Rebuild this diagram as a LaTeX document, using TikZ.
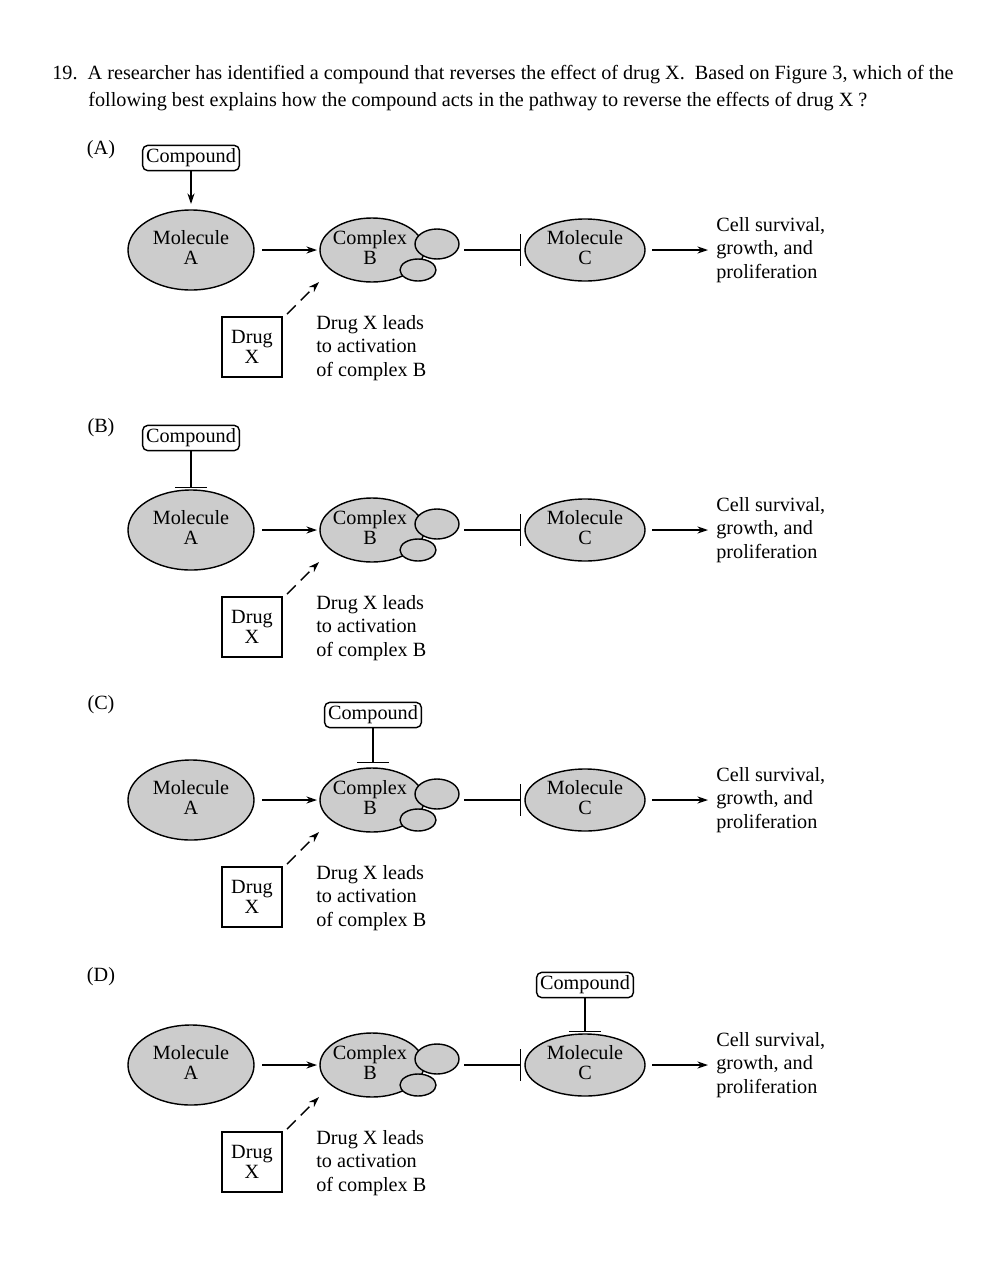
\documentclass[tikz,border=0pt]{standalone}
\usepackage{fontspec}
\setmainfont{Liberation Serif}
\usetikzlibrary{arrows.meta}
\begin{document}
\begin{tikzpicture}[x=0.02cm,y=-0.02cm,font=\fontsize{11.5}{13.5}\selectfont,
 mol/.style={draw,thick,fill=gray!40},
 arr/.style={thick,-{Stealth[length=6pt,width=4pt]}},
 inh/.style={thick,-{Bar[width=18pt]}},
 cmp/.style={draw,thick,rounded corners=3pt,inner sep=2pt,fill=white},
 lbl/.style={align=left,anchor=west,inner sep=0}]
\useasboundingbox (0,0) rectangle (993,1285);
\node[anchor=west,inner sep=0] (q1) at (52,75) {19.\ \ A researcher has identified a compound that reverses the effect of drug X.\ \ Based on Figure 3, which of the};
\node[anchor=west,inner sep=0] (q2) at (88,102) {following best explains how the compound acts in the pathway to reverse the effects of drug X ?};
\foreach \Y/\n in {250/1,530/2,800/3,1065/4}{
 \begin{scope}[yshift=-\Y*0.02cm+250*0.02cm]
 \draw[mol] (191,250) ellipse[x radius=63,y radius=40];
 \node (ma\n) at (191,250) {\begin{tabular}{c}Molecule\\[-2pt]A\end{tabular}};
 \draw[mol] (372,250) ellipse[x radius=52,y radius=32];
 \draw[mol] (437,244) ellipse[x radius=22,y radius=15];
 \draw[mol] (418,270) ellipse[x radius=18,y radius=11];
 \node (cb\n) at (370,250) {\begin{tabular}{c}Complex\\[-2pt]B\end{tabular}};
 \draw[mol] (585,250) ellipse[x radius=60,y radius=31];
 \node (mc\n) at (585,250) {\begin{tabular}{c}Molecule\\[-2pt]C\end{tabular}};
 \coordinate (aA\n) at (262,250); \coordinate (aB\n) at (317,250);
 \draw[arr] (aA\n) -- (aB\n);
 \coordinate (iB\n) at (464,250); \coordinate (iC\n) at (521,250);
 \draw[inh] (iB\n) -- (iC\n);
 \coordinate (oC\n) at (652,250); \coordinate (oT\n) at (708,250);
 \draw[arr] (oC\n) -- (oT\n);
 \node[lbl] (out\n) at (716,250) {Cell survival,\\growth, and\\proliferation};
 \node[draw,thick,minimum width=1.2cm,minimum height=1.2cm,align=center] (dx\n) at (252,347) {Drug\\[-2pt]X};
 \coordinate (d1\n) at (287,314); \coordinate (d2\n) at (319,282);
 \draw[arr,dash pattern=on 7pt off 4pt] (d1\n) -- (d2\n);
 \node[lbl] (dt\n) at (316,348) {Drug X leads\\to activation\\of complex B};
 \end{scope}}
\node (lA) at (101,150) {(A)};
\node (lB) at (101,428) {(B)};
\node (lC) at (101,705) {(C)};
\node (lD) at (101,977) {(D)};
\node[cmp] (c1) at (191,158) {Compound};
\coordinate (c1e) at (191,204); \draw[arr] (c1) -- (c1e);
\node[cmp] (c2) at (191,438) {Compound};
\coordinate (c2e) at (191,488); \draw[inh] (c2) -- (c2e);
\node[cmp] (c3) at (373,715) {Compound};
\coordinate (c3e) at (373,763); \draw[inh] (c3) -- (c3e);
\node[cmp] (c4) at (585,985) {Compound};
\coordinate (c4e) at (585,1032); \draw[inh] (c4) -- (c4e);
\end{tikzpicture}
\end{document}
